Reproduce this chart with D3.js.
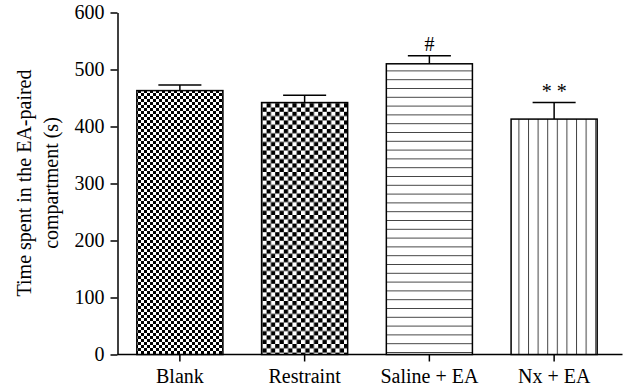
<!DOCTYPE html>
<html>
<head>
<meta charset="utf-8">
<script src="https://d3js.org/d3.v7.min.js"></script>
<style>
  body { margin: 0; background: #fff; }
  text { font-family: "Liberation Serif", "DejaVu Serif", serif; }
</style>
</head>
<body>
<div id="graph"></div>
<script>
  const groups = ['Blank', 'Restraint', 'Saline + EA', 'Nx + EA']
  const means = [463, 442, 510, 413]
  const errors = [10, 13, 14, 29]
  const marks = ['', '', '#', '* *']
  const yTicks = [0, 100, 200, 300, 400, 500, 600]

  const svg = d3.select('#graph').append('svg')
      .attr('width', 640)
      .attr('height', 391)

  // fill patterns, one per group
  const defs = svg.append('defs')

  const checker = (id, cell) => {
    const p = defs.append('pattern')
        .attr('id', id)
        .attr('patternUnits', 'userSpaceOnUse')
        .attr('width', cell * 2)
        .attr('height', cell * 2)
    p.append('rect').attr('width', cell * 2).attr('height', cell * 2).attr('fill', '#fff')
    p.append('rect').attr('width', cell).attr('height', cell).attr('fill', '#000')
    p.append('rect').attr('x', cell).attr('y', cell).attr('width', cell).attr('height', cell).attr('fill', '#000')
  }
  checker('p0', 3)
  checker('p1', 4.3)

  const hp = defs.append('pattern')
      .attr('id', 'p2')
      .attr('patternUnits', 'userSpaceOnUse')
      .attr('width', 10).attr('height', 8.8)
  hp.append('rect').attr('width', 10).attr('height', 8.8).attr('fill', '#fff')
  hp.append('line').attr('x1', 0).attr('x2', 10).attr('y1', 0.5).attr('y2', 0.5)
      .attr('stroke', '#444').attr('stroke-width', 1)

  const vp = defs.append('pattern')
      .attr('id', 'p3')
      .attr('patternUnits', 'userSpaceOnUse')
      .attr('width', 9.6).attr('height', 10)
  vp.append('rect').attr('width', 9.6).attr('height', 10).attr('fill', '#fff')
  vp.append('line').attr('y1', 0).attr('y2', 10).attr('x1', 0.5).attr('x2', 0.5)
      .attr('stroke', '#444').attr('stroke-width', 1)

  const xScale = d3.scaleBand()
      .domain(groups)
      .range([117.5, 616.5])
      .paddingInner(0.31)
      .paddingOuter(0.155)

  const yScale = d3.scaleLinear()
      .domain([0, 600])
      .range([354.5, 12.5])

  // y axis
  const yAxis = svg.append('g')
      .attr('transform', 'translate(117.5, 0)')
      .call(d3.axisLeft(yScale).tickValues(yTicks).tickSize(7).tickSizeOuter(0))
  yAxis.selectAll('path, line').attr('stroke', '#000').attr('stroke-width', 1.5)
  yAxis.selectAll('text').attr('font-size', 20).attr('fill', '#000')
      .attr('font-family', '"Liberation Serif", serif').attr('dx', '-3')

  // x axis
  const xAxis = svg.append('g')
      .attr('transform', `translate(0, ${yScale(0)})`)
      .call(d3.axisBottom(xScale).tickSize(7).tickSizeOuter(0))
  xAxis.select('.domain').remove()
  xAxis.append('line')
      .attr('x1', xScale.range()[0]).attr('x2', xScale.range()[1] + 6)
      .attr('stroke', '#000').attr('stroke-width', 1.5)
  xAxis.selectAll('.tick line').attr('stroke', '#000').attr('stroke-width', 1.5)
  xAxis.selectAll('text').attr('font-size', 20).attr('fill', '#000')
      .attr('font-family', '"Liberation Serif", serif').attr('dy', '0.9em')

  // bars
  const bw = xScale.bandwidth()
  const chart = svg.append('g')
  chart.selectAll('rect.bar')
      .data(groups)
      .enter()
      .append('rect')
      .attr('class', 'bar')
      .attr('x', d => xScale(d))
      .attr('y', (d, i) => yScale(means[i]))
      .attr('width', bw)
      .attr('height', (d, i) => yScale(0) - yScale(means[i]))
      .attr('fill', (d, i) => `url(#p${i})`)
      .attr('stroke', '#000')
      .attr('stroke-width', 1.5)

  // error bars (upper only)
  const err = chart.selectAll('g.err')
      .data(groups)
      .enter()
      .append('g')
      .attr('class', 'err')
  err.append('line')
      .attr('x1', d => xScale(d) + bw / 2)
      .attr('x2', d => xScale(d) + bw / 2)
      .attr('y1', (d, i) => yScale(means[i]))
      .attr('y2', (d, i) => yScale(means[i] + errors[i]))
      .attr('stroke', '#000').attr('stroke-width', 1.5)
  err.append('line')
      .attr('x1', d => xScale(d) + bw / 4)
      .attr('x2', d => xScale(d) + bw * 3 / 4)
      .attr('y1', (d, i) => yScale(means[i] + errors[i]))
      .attr('y2', (d, i) => yScale(means[i] + errors[i]))
      .attr('stroke', '#000').attr('stroke-width', 1.5)
  err.append('text')
      .attr('x', d => xScale(d) + bw / 2)
      .attr('y', (d, i) => yScale(means[i] + errors[i]) - 5)
      .attr('text-anchor', 'middle')
      .attr('font-size', 20)
      .text((d, i) => marks[i])

  // y title
  const title = svg.append('text')
      .attr('transform', 'translate(31, 183) rotate(-90)')
      .attr('text-anchor', 'middle')
      .attr('font-size', 20)
  title.append('tspan').attr('x', 0).attr('y', 0).text('Time spent in the EA-paired')
  title.append('tspan').attr('x', 0).attr('y', 27).text('compartment (s)')
</script>
</body>
</html>
